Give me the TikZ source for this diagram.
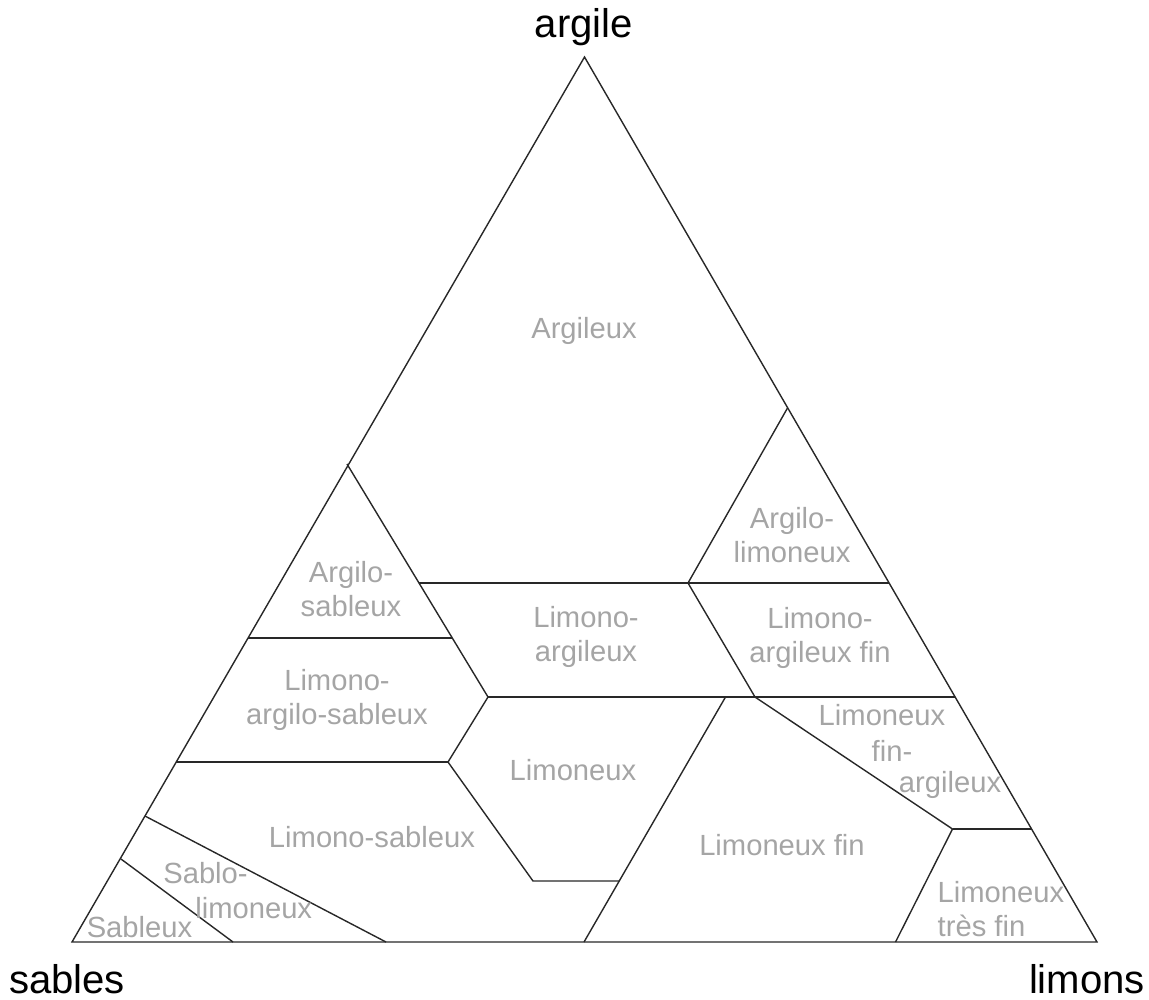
\documentclass[tikz,border=0pt]{standalone}
\usepackage{xcolor}
\usepackage{fontspec}
\setmainfont{Liberation Sans}
\usepackage{tikz}
\usetikzlibrary{positioning,calc}
\definecolor{zonegray}{RGB}{165,165,165}
\definecolor{edgegray}{RGB}{40,40,40}
\tikzset{
  corner/.style={anchor=base, text=black, font=\fontsize{11.4}{13}\selectfont},
  zone/.style={align=center, text=zonegray, inner sep=0pt, font=\fontsize{8.3}{9.7}\selectfont},
  border/.style={draw=edgegray, line width=0.4pt, line join=miter}
}

\begin{document}
\begin{tikzpicture}[x=0.01cm, y=-0.01cm]
    \useasboundingbox (0,0) rectangle (1149,999);

    % Corners
    \coordinate (top) at (584.5,57);
    \coordinate (sa) at (72,942);
    \coordinate (li) at (1097,942);
    \node[corner] (argile) at (584,37) {argile};
    \node[corner] (sables) at (67,993) {sables};
    \node[corner] (limons) at (1087,993) {limons};

    % Points on the sides
    \coordinate (l1) at (347,464);
    \coordinate (l2) at (248,638);
    \coordinate (l3) at (176,762);
    \coordinate (l4) at (145,816);
    \coordinate (l5) at (121,859);
    \coordinate (r1) at (787.5,408);
    \coordinate (r2) at (889,583);
    \coordinate (r3) at (955,697);
    \coordinate (r4) at (1031.5,829);
    \coordinate (b1) at (233,942);
    \coordinate (b2) at (386,942);
    \coordinate (b3) at (584,942);
    \coordinate (b4) at (895.5,942);

    % Inner points
    \coordinate (c1) at (452,638);
    \coordinate (c2) at (419,583);
    \coordinate (c3) at (488,697);
    \coordinate (c4) at (688,583);
    \coordinate (c5) at (755,697);
    \coordinate (c6) at (725.5,697);
    \coordinate (c7) at (448,762);
    \coordinate (c8) at (533,881);
    \coordinate (c9) at (619,881);
    \coordinate (c10) at (952.5,829);

    % Triangle
    \draw[border] (top) -- (sa) -- (li) -- cycle;

    % Class limits
    \draw[border] (l1) -- (c3);
    \draw[border] (l2) -- (c1);
    \draw[border] (c2) -- (r2);
    \draw[border] (r1) -- (c4) -- (c5);
    \draw[border] (c3) -- (r3);
    \draw[border] (l3) -- (c7);
    \draw[border] (c3) -- (c7) -- (c8) -- (c9);
    \draw[border] (c6) -- (b3);
    \draw[border] (c5) -- (c10) -- (b4);
    \draw[border] (c10) -- (r4);
    \draw[border] (l4) -- (b2);
    \draw[border] (l5) -- (b1);

    % Class names
    \node[zone] (argileux) at (584,331) {Argileux};
    \node[zone] (arglim) at (792,535) {Argilo-\\limoneux};
    \node[zone] (argsab) at (351,589) {Argilo-\\sableux};
    \node[zone] (limarg) at (586,637) {Limono-\\argileux};
    \node[zone] (limargfin) at (820,638) {Limono-\\argileux fin};
    \node[zone] (limargsab) at (337,700) {Limono-\\argilo-sableux};
    \node[zone] (limoneux) at (573,770) {Limoneux};
    \node[zone] (lfa1) at (882,715) {Limoneux};
    \node[zone] (lfa2) at (892,751) {fin-};
    \node[zone] (lfa3) at (950,785) {argileux};
    \node[zone] (limsab) at (372,837) {Limono-sableux};
    \node[zone] (limfin) at (782,845) {Limoneux fin};
    \node[zone, align=left, anchor=west] (limtresfin) at (937,909) {Limoneux\\très fin};
    \node[zone] (sablim1) at (205.5,873) {Sablo-};
    \node[zone] (sablim2) at (253.7,908) {limoneux};
    \node[zone] (sableux) at (139.5,927) {Sableux};
\end{tikzpicture}
\end{document}
